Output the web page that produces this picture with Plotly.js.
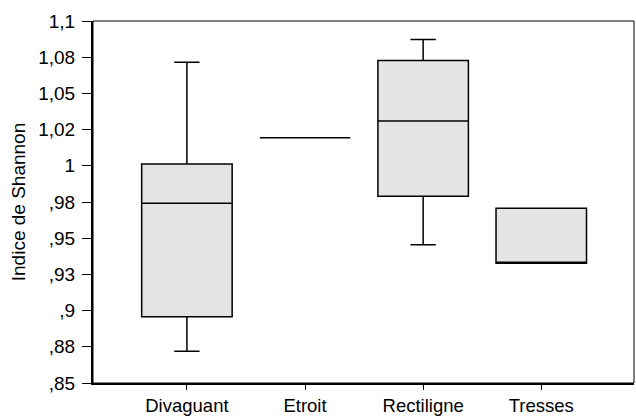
<!DOCTYPE html>
<html><head><meta charset="utf-8">
<script src="https://cdn.plot.ly/plotly-3.0.1.min.js"></script>
<style>html,body{margin:0;padding:0;background:#fff;}#chart{width:636px;height:419px;}</style>
</head><body><div id="chart"></div>
<script>
const categories = ["Divaguant", "Etroit", "Rectiligne", "Tresses"];
const lowerWhisker = [0.872, 1.0193, 0.9454, 0.9327];
const q1Values     = [0.8957, 1.0193, 0.9789, 0.9327];
const medianValues = [0.9741, 1.0193, 1.031, 0.9327];
const q3Values     = [1.0012, 1.0193, 1.0727, 0.9706];
const upperWhisker = [1.0715, 1.0193, 1.0872, 0.9706];
const yTickValues = [0.85, 0.875, 0.9, 0.925, 0.95, 0.975, 1, 1.025, 1.05, 1.075, 1.1];
const yTickLabels = [",85", ",88", ",9", ",93", ",95", ",98", "1", "1,02", "1,05", "1,08", "1,1"];

const font = {family: "Liberation Sans, Arial, sans-serif", size: 19, color: "#000"};
const xFont = {family: "Liberation Sans, Arial, sans-serif", size: 18.5, color: "#000"};

const trace = {
  type: "box",
  x: categories,
  q1: q1Values,
  median: medianValues,
  q3: q3Values,
  lowerfence: lowerWhisker,
  upperfence: upperWhisker,
  fillcolor: "#e4e4e4",
  line: {color: "#000", width: 1.5},
  whiskerwidth: 0.28,
  width: 0.766,
  boxpoints: false,
  hoverinfo: "none",
  showlegend: false
};

const layout = {
  width: 636, height: 419,
  margin: {l: 93, r: 2, t: 21, b: 36},
  paper_bgcolor: "#fff", plot_bgcolor: "#fff",
  font: font,
  showlegend: false,
  xaxis: {
    type: "category",
    categoryarray: categories,
    range: [-0.795, 3.785],
    showgrid: false, zeroline: false,
    showline: true, linecolor: "#000", linewidth: 2,
    ticks: "outside", ticklen: 5, tickwidth: 1, tickcolor: "#000",
    mirror: false,
    tickfont: xFont,
    ticklabelstandoff: 0
  },
  xaxis2: {
    overlaying: "x",
    side: "top",
    range: [-0.795, 3.785],
    tickvals: [0, 1, 2, 3],
    showticklabels: false,
    showgrid: false, zeroline: false, showline: false,
    ticks: "outside", ticklen: 5, tickwidth: 1, tickcolor: "#000"
  },
  yaxis: {
    range: [0.85, 1.1],
    tickvals: yTickValues,
    ticktext: yTickLabels,
    showgrid: false, zeroline: false,
    showline: true, linecolor: "#000", linewidth: 2,
    ticks: "outside", ticklen: 9, tickwidth: 1, tickcolor: "#000",
    tickfont: font,
    ticklabelstandoff: 3,
    title: {text: "Indice de Shannon", font: font, standoff: 8}
  },
  shapes: [{
    type: "rect", xref: "paper", yref: "paper",
    x0: 0, x1: 1, y0: 0, y1: 1,
    line: {color: "#000", width: 1}, layer: "above"
  }]
};

Plotly.newPlot("chart", [trace], layout, {staticPlot: true, displayModeBar: false});
</script>
</body></html>
